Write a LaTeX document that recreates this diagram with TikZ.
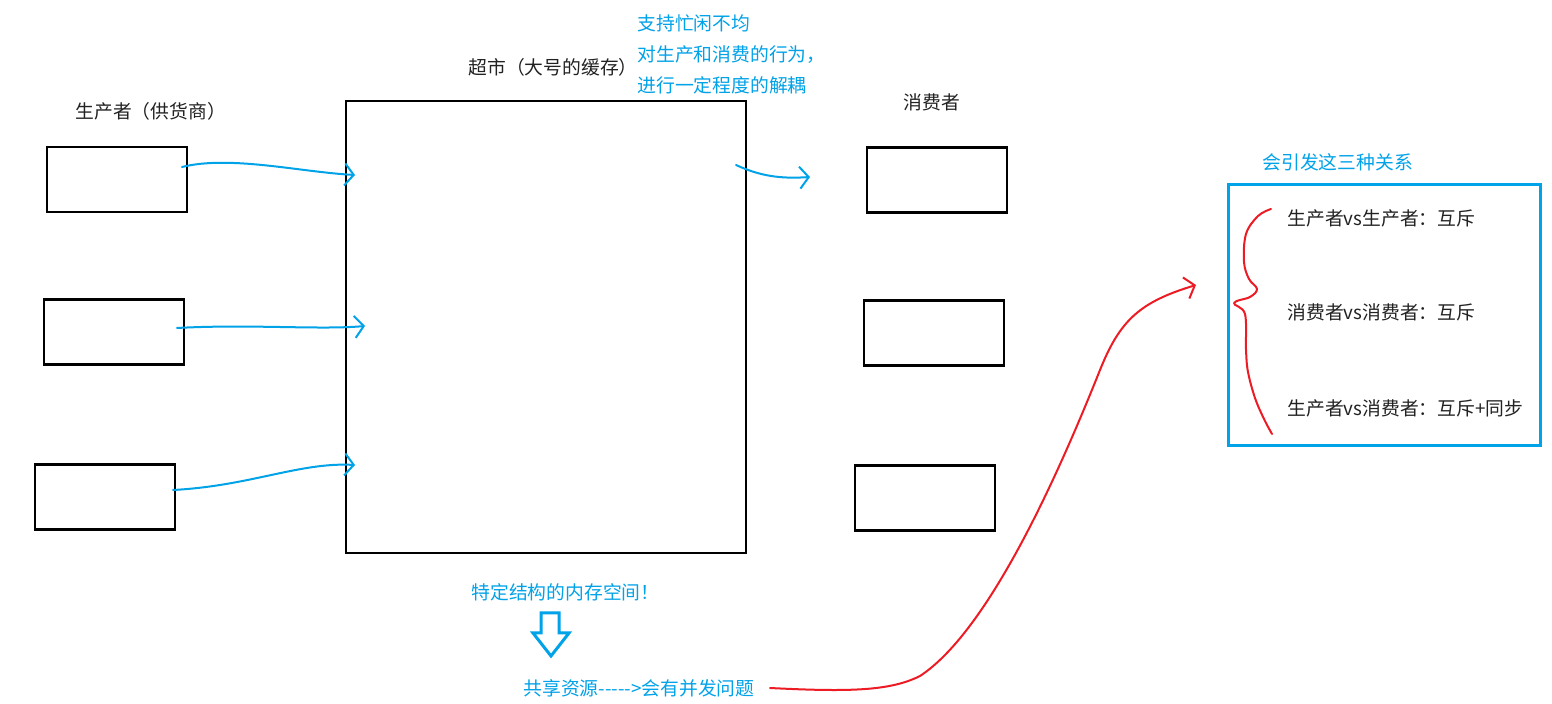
\documentclass[tikz,border=0pt]{standalone}
\usepackage{fontspec}
\setmainfont{Noto Sans CJK SC}
\newfontfamily\cjk{Noto Sans CJK SC}
\usetikzlibrary{arrows.meta}
\definecolor{pblue}{HTML}{00A2E8}
\definecolor{pred}{HTML}{ED1C24}
\definecolor{ptext}{HTML}{222222}
\begin{document}
\begin{tikzpicture}[x=0.5pt,y=-0.5pt,
  bbox/.style={draw=black,line width=1.3pt,minimum width=70pt,minimum height=32.5pt,inner sep=0pt,outer sep=0pt},
  lbl/.style={font=\cjk\fontsize{9.4pt}{11pt}\selectfont,text=ptext,inner sep=0pt},
  blbl/.style={font=\cjk\fontsize{9.4pt}{11pt}\selectfont,text=pblue,inner sep=0pt},
  barr/.style={draw=pblue,line width=1pt,line cap=round,-{Straight Barb[length=4.5pt,width=11pt,line width=1pt]}},
  rarr/.style={draw=pred,line width=1pt,line cap=round,-{Straight Barb[length=4.5pt,width=11pt,line width=1pt]}}]
\useasboundingbox (0,0) rectangle (1552,704);
\fill[white] (0,0) rectangle (1552,704);
% producer boxes
\node[bbox] (p1) at (117,179.5) {};
\node[bbox] (p2) at (114,332) {};
\node[bbox] (p3) at (105,497) {};
% buffer
\node[draw=black,line width=1.3pt,minimum width=200pt,minimum height=226pt,inner sep=0pt] (buf) at (546,327) {};
% consumer boxes
\node[bbox] (c1) at (937,180) {};
\node[bbox] (c2) at (934,333) {};
\node[bbox] (c3) at (925,498) {};
% labels
\node[lbl,anchor=west] (lp) at (75,111) {生产者（供货商）};
\node[lbl,anchor=west] (lb) at (468,67) {超市（大号的缓存）};
\node[lbl,anchor=west] (lc) at (903,102) {消费者};
\node[blbl,anchor=west] (t1) at (637,23) {支持忙闲不均};
\node[blbl,anchor=west] (t2) at (637,55) {对生产和消费的行为，};
\node[blbl,anchor=west] (t3) at (637,85) {进行一定程度的解耦};
\node[blbl,anchor=west] (t4) at (471,592) {特定结构的内存空间！};
\node[blbl,anchor=west] (t5) at (523,688) {共享资源-{}-{}-{}-{}->会有并发问题};
\node[blbl,anchor=west] (t6) at (1262,162) {会引发这三种关系};
% relation box
\node[draw=pblue,line width=1.5pt,minimum width=156pt,minimum height=130.5pt,inner sep=0pt] (rel) at (1384,315.5) {};
\node[lbl,anchor=west] (r1) at (1287,218) {生产者vs生产者：互斥};
\node[lbl,anchor=west] (r2) at (1287,312) {消费者vs消费者：互斥};
\node[lbl,anchor=west] (r3) at (1287,408) {生产者vs消费者：互斥+同步};
% coordinates
\coordinate (e1) at (355,175);
\coordinate (e2) at (365,326);
\coordinate (e3) at (355,465);
\coordinate (s1) at (182,167);
\coordinate (s2) at (177,328);
\coordinate (s3) at (173,490);
\coordinate (cs) at (736,165);
\coordinate (ce) at (810,177);
\coordinate (rs) at (770,688);
\coordinate (re) at (1196,285);
% blue arrows
\draw[barr] (s1) .. controls (230,155) and (300,172) .. (e1);
\draw[barr] (s2) .. controls (250,324) and (320,330) .. (e2);
\draw[barr] (s3) .. controls (250,486) and (300,462) .. (e3);
\draw[barr] (cs) .. controls (760,176) and (780,179) .. (ce);
% red arrow
\draw[rarr] (rs) .. controls (850,692) and (890,691) .. (920,676) .. controls (990,630) and (1060,470) .. (1100,370) .. controls (1120,320) and (1140,302) .. (re);
% red brace
\draw[pred,line width=1pt,line cap=round,line join=round] plot[smooth,tension=0.6] coordinates {(1271,209) (1258,216) (1246,234) (1244,262) (1249,279) (1257,289) (1250,297) (1234,303) (1245,314) (1246,350) (1248,372) (1255,398) (1264,419) (1272,434)};
% hollow down arrow
\draw[pblue,line width=1.5pt,line join=miter] (541,613) -- (559,613) -- (559,633) -- (569,633) -- (551,656) -- (533,633) -- (541,633) -- cycle;
\end{tikzpicture}
\end{document}
